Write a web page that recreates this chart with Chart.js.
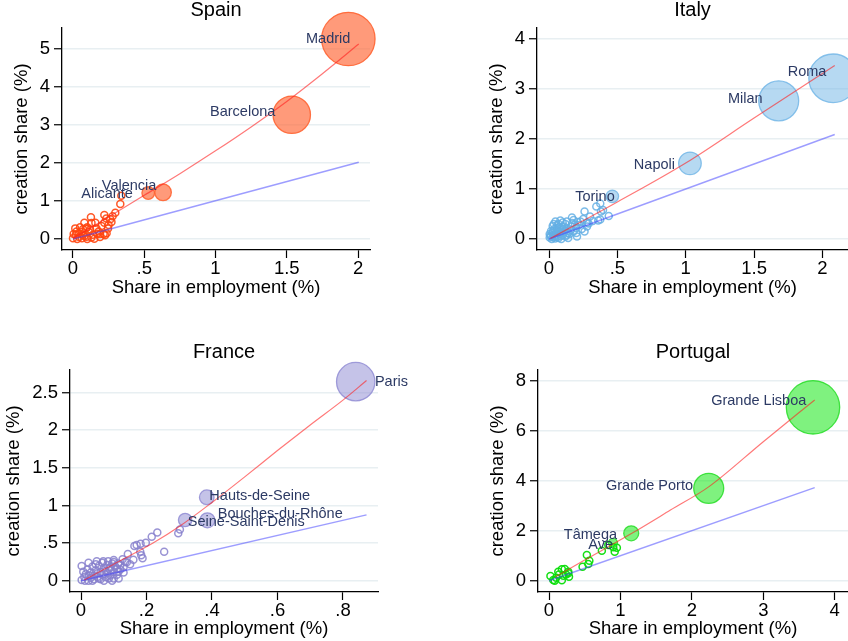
<!DOCTYPE html>
<html>
<head>
<meta charset="utf-8">
<script src="https://cdn.jsdelivr.net/npm/chart.js@4.4.1/dist/chart.umd.min.js"></script>
<style>
  body { margin: 0; background: #fff; }
  #wrap { position: relative; width: 848px; height: 641px; overflow: hidden; }
  canvas { position: absolute; }
</style>
</head>
<body>
<div id="wrap">
  <canvas id="spain" width="380" height="300" style="left:0px;top:0px"></canvas>
  <canvas id="italy" width="373" height="300" style="left:475px;top:0px"></canvas>
  <canvas id="france" width="430" height="299" style="left:0px;top:342px"></canvas>
  <canvas id="portugal" width="372" height="299" style="left:476px;top:342px"></canvas>
</div>
<script>
// ---- Spain ----
const spainX = [0.332,0.339,0.297,0.278,0.22,0.234,0.262,0.27,0.22,0.25,0.246,0.126,0.157,0.164,0.08,0.09,0.12,0.215,0.19,0.016,0.04,0.005,0.0,0.03,0.063,0.1,0.063,0.11,0.14,0.05,0.13,0.07,0.17,0.2,0.02,0.15,0.044,0.096,0.13,0.07,0.236,0.225,0.19,0.08,0.1,0.025,0.18];
const spainY = [0.92,1.14,0.69,0.60,0.63,0.54,0.52,0.45,0.43,0.37,0.28,0.57,0.43,0.28,0.43,0.28,0.25,0.13,0.13,0.28,0.15,0.13,0.02,0.0,0.02,0.0,0.19,0.19,0.11,0.31,0.42,0.11,0.14,0.34,0.11,0.01,0.05,0.06,0.04,0.26,0.15,0.1,0.05,0.08,0.31,0.2,0.2];
const spainCities = ['Madrid', 'Barcelona', 'Valencia', 'Alicante'];
const spainCityX = [1.932, 1.535, 0.632, 0.528];
const spainCityY = [5.263, 3.27, 1.229, 1.21];
const spainCitySize = [26.7, 18.7, 8.3, 6.3];
const spainFitX = [0, 0.25, 0.5, 0.75, 1, 1.25, 1.5, 1.75, 2.005];
const spainFitY = [0.02, 0.58, 1.15, 1.72, 2.32, 2.95, 3.62, 4.35, 5.13];
const spainDiagX = [0, 2.005];
const spainDiagY = [0, 2.02];
const spainXTicks = [0, 0.5, 1, 1.5, 2];
const spainYTicks = [0, 1, 2, 3, 4, 5];

// ---- Italy ----
const italyX = [0.375,0.346,0.395,0.38,0.437,0.375,0.36,0.26,0.30,0.29,0.278,0.26,0.205,0.168,0.23,0.19,0.13,0.083,0.047,0.11,0.16,0.06,0.027,0.015,0.005,0.04,0.07,0.12,0.14,0.18,0.09,0.02,0.03,0.05,0.06,0.08,0.1,0.1,0.12,0.07,0.04,0.015,0.025,0.055,0.085,0.11,0.13,0.15,0.2,0.22,0.24,0.17,0.09,0.14,0.06,0.035,0.25,0.2,0.005,0.045,0.075,0.13,0.16,0.03,0.28,0.32,0.21,0.18,0.1,0.065,0.095,0.12,0.01,0.035,0.055];
const italyY = [0.71,0.65,0.58,0.55,0.46,0.39,0.37,0.55,0.45,0.31,0.25,0.15,0.05,0.43,0.35,0.29,0.35,0.37,0.35,0.25,0.18,0.22,0.26,0.16,0.1,0.05,0.02,0.05,0.12,0.15,0.15,0.0,0.08,0.12,0.04,0.1,0.08,0.2,0.3,0.3,0.2,0.05,0.13,0.18,0.06,0.14,0.2,0.1,0.22,0.28,0.2,0.32,0.0,0.02,0.28,0.3,0.4,0.12,0.03,0.01,0.2,0.08,0.25,0.16,0.33,0.36,0.34,0.38,0.33,0.14,0.24,0.17,0.07,0.04,0.07];
const italyCities = ['Roma', 'Milan', 'Napoli', 'Torino'];
const italyCityX = [2.078, 1.68, 1.031, 0.463];
const italyCityY = [3.214, 2.763, 1.513, 0.853];
const italyCitySize = [24.3, 20, 11.3, 6.3];
const italyFitX = [0.01, 0.5, 1.0, 1.5, 2.09];
const italyFitY = [0.01, 0.74, 1.52, 2.42, 3.47];
const italyDiagX = [0, 2.09];
const italyDiagY = [0, 2.09];
const italyXTicks = [0, 0.5, 1, 1.5, 2];
const italyYTicks = [0, 1, 2, 3, 4];

// ---- France ----
const franceX = [0.233,0.216,0.198,0.182,0.17,0.163,0.181,0.184,0.188,0.254,0.297,0.302,0.143,0.127,0.14,0.114,0.1,0.083,0.068,0.048,0.023,0.002,0.007,0.002,0.023,0.07,0.1,0.114,0.11,0.09,0.01,0.015,0.02,0.03,0.03,0.035,0.04,0.04,0.045,0.05,0.05,0.055,0.06,0.06,0.065,0.07,0.075,0.075,0.08,0.08,0.085,0.09,0.09,0.095,0.1,0.105,0.11,0.12,0.12,0.13,0.135,0.15,0.16,0.045,0.025,0.035,0.055,0.085,0.065,0.012,0.1,0.13,0.095,0.115];
const franceY = [0.64,0.585,0.505,0.49,0.475,0.46,0.385,0.34,0.30,0.385,0.63,0.68,0.355,0.285,0.245,0.23,0.275,0.26,0.26,0.26,0.24,0.195,0.12,0.01,0.0,0.0,0.03,0.12,0.16,0.14,0.05,0.09,0.15,0.04,0.11,0.19,0.07,0.02,0.14,0.1,0.05,0.2,0.12,0.02,0.08,0.17,0.13,0.05,0.21,0.1,0.03,0.18,0.07,0.23,0.12,0.19,0.08,0.21,0.15,0.18,0.25,0.22,0.28,0.22,0.07,0.0,0.03,0.16,0.24,0.0,0.25,0.11,0.0,0.03];
const franceCities = ['Paris', 'Hauts-de-Seine', 'Bouches-du-Rhône', 'Seine-Saint-Denis'];
const franceCityX = [0.839, 0.384, 0.386, 0.318];
const franceCityY = [2.645, 1.109, 0.803, 0.807];
const franceCitySize = [19.2, 7.3, 7.5, 6.7];
const franceFitX = [0.01, 0.1, 0.22, 0.3, 0.4, 0.5, 0.6, 0.7, 0.8, 0.872];
const franceFitY = [0.01, 0.22, 0.5, 0.72, 1.04, 1.38, 1.73, 2.07, 2.40, 2.66];
const franceDiagX = [0, 0.872];
const franceDiagY = [0, 0.874];
const franceXTicks = [0, 0.2, 0.4, 0.6, 0.8];
const franceYTicks = [0, 0.5, 1, 1.5, 2, 2.5];

// ---- Portugal ----
const portugalX = [0.02,0.06,0.08,0.13,0.18,0.22,0.27,0.2,0.28,0.18,0.14,0.24,0.1,0.27,0.47,0.53,0.55,0.565,0.74,0.90,0.92,0.95,0.83];
const portugalY = [0.19,0.03,0.0,0.36,0.46,0.47,0.36,0.2,0.16,0.02,0.25,0.25,0.12,0.3,0.56,1.03,0.67,0.8,1.2,1.34,1.16,1.32,1.43];
const portugalCities = ['Grande Lisboa', 'Grande Porto', 'Tâmega', 'Ave'];
const portugalCityX = [3.696, 2.236, 1.151, 0.896];
const portugalCityY = [6.947, 3.70, 1.90, 1.52];
const portugalCitySize = [26.7, 15, 7.5, 4.5];
const portugalFitX = [0.09, 0.5, 1.16, 1.7, 2.24, 3.0, 3.72];
const portugalFitY = [0.16, 0.83, 1.90, 2.83, 3.77, 5.57, 7.24];
const portugalDiagX = [0, 3.72];
const portugalDiagY = [0, 3.73];
const portugalXTicks = [0, 1, 2, 3, 4];
const portugalYTicks = [0, 2, 4, 6, 8];

const FONT = "'Liberation Sans', Arial, sans-serif";
const LABEL_COLOR = '#2c3a64';

const zip = (xs, ys) => xs.map((x, i) => ({ x, y: ys[i] }));
const fmt = v => String(v).replace(/^0\./, '.');

// draws the region names next to the big bubbles
const cityLabels = {
  id: 'cityLabels',
  afterDatasetsDraw(chart, args, opts) {
    const idx = chart.data.datasets.findIndex(d => d.cityNames);
    if (idx < 0) return;
    const names = chart.data.datasets[idx].cityNames;
    const meta = chart.getDatasetMeta(idx);
    const ctx = chart.ctx;
    ctx.save();
    ctx.font = '14.5px ' + FONT;
    ctx.fillStyle = LABEL_COLOR;
    ctx.textBaseline = 'middle';
    ctx.textAlign = opts.align;
    meta.data.forEach((el, i) => {
      ctx.fillText(names[i], el.x + opts.dx[i], el.y + opts.dy[i]);
    });
    ctx.restore();
  }
};

// panel title, centred over the plot region (not the whole canvas)
const panelTitle = {
  id: 'panelTitle',
  afterDraw(chart, args, opts) {
    const { ctx, chartArea } = chart;
    ctx.save();
    ctx.font = '20px ' + FONT;
    ctx.fillStyle = '#000';
    ctx.textAlign = 'center';
    ctx.textBaseline = 'middle';
    ctx.fillText(opts.text, (chartArea.left + chartArea.right) / 2, 10);
    ctx.restore();
  }
};

function makePanel(p) {
  const ctx = document.getElementById(p.id).getContext('2d');
  return new Chart(ctx, {
    type: 'scatter',
    data: {
      datasets: [
        {
          data: zip(p.fitX, p.fitY),
          showLine: true,
          pointRadius: 0,
          borderColor: 'rgba(255,30,30,0.6)',
          borderWidth: 1.2,
          cubicInterpolationMode: 'monotone',
          order: 0
        },
        {
          data: zip(p.diagX, p.diagY),
          showLine: true,
          pointRadius: 0,
          borderColor: 'rgba(60,60,255,0.5)',
          borderWidth: 1.4,
          order: 0
        },
        {
          type: 'bubble',
          data: p.cityX.map((x, i) => ({ x, y: p.cityY[i], r: p.citySize[i] })),
          cityNames: p.cities,
          backgroundColor: p.fill,
          borderColor: p.edge,
          borderWidth: 1.3,
          clip: false,
          order: 1
        },
        {
          data: zip(p.ptsX, p.ptsY),
          pointRadius: 3.5,
          pointBorderWidth: 1.5,
          backgroundColor: 'rgba(0,0,0,0)',
          borderColor: p.dot,
          order: 2
        }
      ]
    },
    options: {
      responsive: false,
      devicePixelRatio: 1,
      animation: false,
      layout: { autoPadding: false, padding: { top: 28, left: 0, bottom: 0, right: p.padRight } },
      plugins: {
        legend: { display: false },
        tooltip: { enabled: false },
        title: { display: false },
        panelTitle: { text: p.title },
        cityLabels: p.labelStyle
      },
      scales: {
        x: {
          type: 'linear',
          min: p.xMin,
          max: p.xMax,
          afterBuildTicks: s => { s.ticks = p.xTicks.map(v => ({ value: v })); },
          afterFit: s => { s.height = p.xAxisH; },
          ticks: {
            callback: v => fmt(v),
            color: '#000',
            font: { family: FONT, size: 18.5 },
            padding: 0,
            maxRotation: 0
          },
          grid: { drawOnChartArea: false, tickLength: 8, tickColor: '#000', tickWidth: 1.2 },
          border: { color: '#000', width: 1.3 },
          title: {
            display: true,
            text: 'Share in employment (%)',
            color: '#000',
            font: { family: FONT, size: 18.5 },
            padding: { top: 0, bottom: 0.6 }
          }
        },
        y: {
          type: 'linear',
          min: p.yMin,
          max: p.yMax,
          afterBuildTicks: s => { s.ticks = p.yTicks.map(v => ({ value: v })); },
          afterFit: s => { s.width = p.yAxisW; },
          ticks: {
            callback: v => fmt(v),
            color: '#000',
            font: { family: FONT, size: 18.5 },
            padding: 4
          },
          grid: { color: '#e8eff2', lineWidth: 1.5, tickLength: 8, tickColor: '#000', tickWidth: 1.2 },
          border: { color: '#000', width: 1.3 },
          title: {
            display: true,
            text: 'creation share (%)',
            color: '#000',
            font: { family: FONT, size: 18.5 },
            padding: { top: p.yTitlePad, bottom: 0 }
          }
        }
      }
    },
    plugins: [cityLabels, panelTitle]
  });
}

makePanel({
  id: 'spain', title: 'Spain',
  ptsX: spainX, ptsY: spainY,
  cities: spainCities, cityX: spainCityX, cityY: spainCityY, citySize: spainCitySize,
  fitX: spainFitX, fitY: spainFitY, diagX: spainDiagX, diagY: spainDiagY,
  xTicks: spainXTicks, yTicks: spainYTicks,
  xMin: -0.077, xMax: 2.084, yMin: -0.289, yMax: 5.553,
  dot: 'rgba(255,70,15,0.9)', fill: 'rgba(255,100,50,0.65)', edge: 'rgba(255,100,50,0.9)',
  labelStyle: { align: 'right', dx: [2, -16.4, -6.7, -15.3], dy: [0, -3, -6.6, 1] },
  padRight: 10, yAxisW: 62, yTitlePad: 10.6, xAxisH: 50
});

makePanel({
  id: 'italy', title: 'Italy',
  ptsX: italyX, ptsY: italyY,
  cities: italyCities, cityX: italyCityX, cityY: italyCityY, citySize: italyCitySize,
  fitX: italyFitX, fitY: italyFitY, diagX: italyDiagX, diagY: italyDiagY,
  xTicks: italyXTicks, yTicks: italyYTicks,
  xMin: -0.0878, xMax: 2.187, yMin: -0.22, yMax: 4.22,
  dot: 'rgba(100,175,228,0.85)', fill: 'rgba(110,180,230,0.5)', edge: 'rgba(110,180,230,0.8)',
  labelStyle: { align: 'right', dx: [-6.7, -16, -15, 2.4], dy: [-6.6, -1.8, 1.7, 0.4] },
  padRight: 0, yAxisW: 62, yTitlePad: 10.6, xAxisH: 50
});

makePanel({
  id: 'france', title: 'France',
  ptsX: franceX, ptsY: franceY,
  cities: franceCities, cityX: franceCityX, cityY: franceCityY, citySize: franceCitySize,
  fitX: franceFitX, fitY: franceFitY, diagX: franceDiagX, diagY: franceDiagY,
  xTicks: franceXTicks, yTicks: franceYTicks,
  xMin: -0.0336, xMax: 0.907, yMin: -0.15, yMax: 2.80,
  dot: 'rgba(135,128,205,0.85)', fill: 'rgba(140,135,210,0.5)', edge: 'rgba(140,135,210,0.8)',
  labelStyle: { align: 'left', dx: [19.2, 2.6, 10.4, 2.7], dy: [0, -1.3, -6.3, 1.7] },
  padRight: 52, yAxisW: 70, yTitlePad: 2.4, xAxisH: 49
});

makePanel({
  id: 'portugal', title: 'Portugal',
  ptsX: portugalX, ptsY: portugalY,
  cities: portugalCities, cityX: portugalCityX, cityY: portugalCityY, citySize: portugalCitySize,
  fitX: portugalFitX, fitY: portugalFitY, diagX: portugalDiagX, diagY: portugalDiagY,
  xTicks: portugalXTicks, yTicks: portugalYTicks,
  xMin: -0.154, xMax: 4.186, yMin: -0.45, yMax: 8.44,
  dot: 'rgba(10,222,10,0.95)', fill: 'rgba(0,230,0,0.5)', edge: 'rgba(30,220,30,0.8)',
  labelStyle: { align: 'right', dx: [-6.7, -15.7, -14.2, 0], dy: [-6.3, -2.3, 1.8, 2.3] },
  padRight: 0, yAxisW: 62, yTitlePad: 10.6, xAxisH: 49
});
</script>
</body>
</html>
